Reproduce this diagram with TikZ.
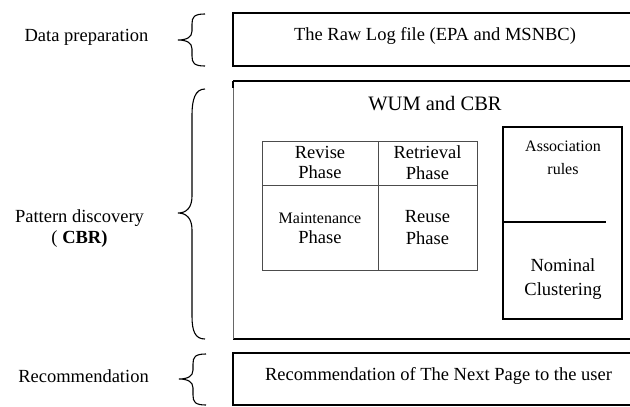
\documentclass[tikz,border=0pt]{standalone}
\usepackage{fontspec}
\setmainfont{Liberation Serif}
\begin{document}
\begin{tikzpicture}[x=1pt,y=-1pt,
  lbl/.style={inner sep=0pt, anchor=base, font=\fontsize{18.5}{21}\selectfont},
  mlbl/.style={inner sep=0pt, align=center, font=\fontsize{18.5}{20.5}\selectfont},
  outer/.style={draw=black, line width=1.3pt},
  thinedge/.style={draw=black!60, line width=0.8pt},
  gridline/.style={draw=black!70, line width=1pt},
  inbox/.style={draw=black, line width=1.2pt},
  bracestyle/.style={draw=black, line width=1.1pt}]
\useasboundingbox (0,0) rectangle (630,407);

% ---- outer boxes
\draw[outer] (640,13) -- (233,13) -- (233,66) -- (640,66);
\draw[outer] (640,81) -- (233,81);
\draw[outer] (233,339) -- (640,339);
\draw[thinedge] (233,81) -- (233,339);
\draw[outer] (233,81) -- (233,88);
\draw[outer] (640,353) -- (233,353) -- (233,405) -- (640,405);

% ---- braces
\draw[bracestyle] (205,14) .. controls (194,14) and (192,17) .. (192,24)
  -- (192,31) .. controls (192,37) and (187,40) .. (178,40)
  .. controls (187,40) and (192,43) .. (192,49)
  -- (192,56) .. controls (192,63) and (194,66) .. (205,66);
\draw[bracestyle] (205,89) .. controls (195,89) and (192,100) .. (192,115)
  -- (192,196) .. controls (192,207) and (187,213) .. (178,213)
  .. controls (187,213) and (192,219) .. (192,230)
  -- (192,316) .. controls (192,331) and (195,339) .. (205,339);
\draw[bracestyle] (206,354) .. controls (195,354) and (193,357) .. (193,364)
  -- (193,370) .. controls (193,376) and (188,379) .. (179,379)
  .. controls (188,379) and (193,382) .. (193,388)
  -- (193,395) .. controls (193,402) and (195,405) .. (206,405);

% ---- left labels
\node[lbl] (dp) at (86.5,41) {Data preparation};
\node[mlbl] (pd) at (79.5,228.4) {Pattern discovery\\( \textbf{CBR)}};
\node[lbl] (rec) at (83.5,382) {Recommendation};

% ---- box texts
\node[lbl] (raw) at (435,40) {The Raw Log file (EPA and MSNBC)};
\node[lbl, font=\fontsize{20.5}{23}\selectfont] (wum) at (435,110) {WUM and CBR};
\node[lbl] (next) at (438.5,380) {Recommendation of The Next Page to the user};

% ---- CBR grid
\draw[gridline] (262,141) rectangle (477,270);
\draw[gridline] (262,185) -- (477,185);
\draw[gridline] (378,141) -- (378,270);
\node[mlbl] (revise) at (320,162.7) {Revise\\Phase};
\node[mlbl] (retrieval) at (427.5,162.7) {Retrieval\\Phase};
\node[mlbl] (maint) at (320,228.2) {{\fontsize{16}{19}\selectfont Maintenance}\\Phase};
\node[mlbl] (reuse) at (427.5,227.9) {Reuse\\[1.5pt]Phase};

% ---- right box
\draw[inbox] (503,127) rectangle (622,319);
\draw[inbox] (503,222) -- (606,222);
\node[mlbl, font=\fontsize{16}{23}\selectfont] (assoc) at (563,158) {Association\\rules};
\node[mlbl, font=\fontsize{18.5}{24}\selectfont] (nominal) at (563,278.9) {Nominal\\Clustering};
\end{tikzpicture}
\end{document}
